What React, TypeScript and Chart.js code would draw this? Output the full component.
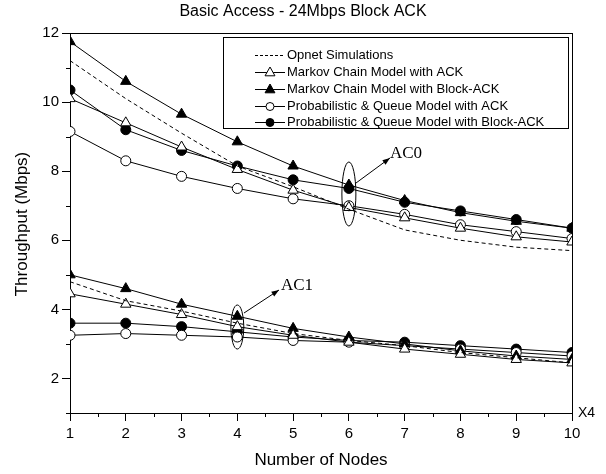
import React, { useEffect, useRef } from "react";
import { Chart, registerables } from "chart.js";

Chart.register(...registerables);

const nodes = [1, 2, 3, 4, 5, 6, 7, 8, 9, 10];
const yTickValues = [2, 4, 6, 8, 10, 12];

// AC0
const ac0Opnet = [11.2, 10.1, 9.1, 8.15, 7.55, 6.9, 6.3, 6.0, 5.8, 5.7];
const ac0MarkovAck = [10.1, 9.4, 8.7, 8.05, 7.45, 6.95, 6.65, 6.35, 6.1, 5.95];
const ac0MarkovBlock = [11.75, 10.6, 9.65, 8.85, 8.15, 7.6, 7.15, 6.8, 6.55, 6.35];
const ac0ProbAck = [9.15, 8.3, 7.85, 7.5, 7.2, 7.0, 6.75, 6.45, 6.25, 6.05];
const ac0ProbBlock = [10.35, 9.2, 8.6, 8.15, 7.75, 7.5, 7.1, 6.85, 6.6, 6.35];

// AC1
const ac1Opnet = [4.8, 4.25, 3.95, 3.6, 3.3, 3.1, 2.95, 2.75, 2.6, 2.45];
const ac1MarkovAck = [4.45, 4.15, 3.85, 3.5, 3.25, 3.05, 2.85, 2.7, 2.55, 2.45];
const ac1MarkovBlock = [5.0, 4.6, 4.15, 3.8, 3.45, 3.2, 3.0, 2.8, 2.65, 2.55];
const ac1ProbAck = [3.25, 3.3, 3.25, 3.2, 3.1, 3.05, 2.95, 2.85, 2.75, 2.65];
const ac1ProbBlock = [3.6, 3.6, 3.5, 3.35, 3.2, 3.1, 3.05, 2.95, 2.85, 2.75];

const legendLabels = [
  "Opnet Simulations",
  "Markov Chain Model with ACK",
  "Markov Chain Model with Block-ACK",
  "Probabilistic & Queue Model with ACK",
  "Probabilistic & Queue Model with Block-ACK",
];

const SANS = "Arial, 'Liberation Sans', sans-serif";
const SERIF = "'Times New Roman', 'Liberation Serif', serif";

type Kind = "opnet" | "triOpen" | "triFill" | "circOpen" | "circFill";

function styleFor(kind: Kind) {
  const base: any = {
    borderColor: "#000",
    borderWidth: 1,
    pointBorderColor: "#000",
    pointBorderWidth: 1,
    tension: 0,
    fill: false,
  };
  if (kind === "opnet") {
    return { ...base, borderDash: [4, 3], pointRadius: 0 };
  }
  if (kind === "triOpen") return { ...base, pointStyle: "triangle", pointRadius: 6, pointBackgroundColor: "#fff" };
  if (kind === "triFill") return { ...base, pointStyle: "triangle", pointRadius: 6, pointBackgroundColor: "#000" };
  if (kind === "circOpen") return { ...base, pointStyle: "circle", pointRadius: 5, pointBackgroundColor: "#fff" };
  return { ...base, pointStyle: "circle", pointRadius: 5, pointBackgroundColor: "#000" };
}

function toPts(vals: number[]) {
  return vals.map((v, i) => ({ x: nodes[i], y: v }));
}

const overlayPlugin = {
  id: "overlay",
  afterDraw(chart: any) {
    const ctx = chart.ctx as CanvasRenderingContext2D;
    const { left, right, top, bottom } = chart.chartArea;
    const xs = chart.scales.x;
    const ys = chart.scales.y;
    ctx.save();
    ctx.strokeStyle = "#000";
    ctx.fillStyle = "#000";
    ctx.lineWidth = 1;

    // frame top/right
    ctx.beginPath();
    ctx.moveTo(left, Math.round(top) + 0.5);
    ctx.lineTo(right, Math.round(top) + 0.5);
    ctx.moveTo(Math.round(right) + 0.5, top);
    ctx.lineTo(Math.round(right) + 0.5, bottom);
    ctx.stroke();

    // minor ticks
    ctx.beginPath();
    for (let v = 1.5; v < 10; v += 1) {
      const px = Math.round(xs.getPixelForValue(v)) + 0.5;
      ctx.moveTo(px, bottom);
      ctx.lineTo(px, bottom + 4);
    }
    for (let v = 1; v < 12; v += 2) {
      const py = Math.round(ys.getPixelForValue(v)) + 0.5;
      ctx.moveTo(left, py);
      ctx.lineTo(left - 4, py);
    }
    ctx.stroke();

    // title
    ctx.font = `16px ${SANS}`;
    ctx.textAlign = "center";
    ctx.textBaseline = "middle";
    ctx.fillText("Basic Access - 24Mbps Block ACK", 303, 12);

    // axis titles
    ctx.font = `17px ${SANS}`;
    ctx.fillText("Number of Nodes", 321, 460);
    ctx.save();
    ctx.translate(22, 224);
    ctx.rotate(-Math.PI / 2);
    ctx.fillText("Throughput (Mbps)", 0, 0);
    ctx.restore();

    // X4
    ctx.font = `14px ${SANS}`;
    ctx.textAlign = "left";
    ctx.fillText("X4", 578, 413);

    // legend box
    ctx.fillStyle = "#fff";
    ctx.fillRect(223.5, 37.5, 345, 91);
    ctx.fillStyle = "#000";
    ctx.strokeRect(223.5, 37.5, 345, 91);
    const kinds: Kind[] = ["opnet", "triOpen", "triFill", "circOpen", "circFill"];
    const ly = [55, 72, 89, 106, 122];
    ctx.font = `13px ${SANS}`;
    ctx.textBaseline = "middle";
    kinds.forEach((k, i) => {
      const y = ly[i] + 0.5;
      ctx.beginPath();
      if (k === "opnet") ctx.setLineDash([3, 2]);
      else ctx.setLineDash([]);
      ctx.moveTo(255, y);
      ctx.lineTo(285, y);
      ctx.stroke();
      ctx.setLineDash([]);
      const cx = 270;
      if (k === "triOpen" || k === "triFill") {
        const r = 5.5;
        ctx.beginPath();
        ctx.moveTo(cx, y - r);
        ctx.lineTo(cx + r * 0.9, y + r * 0.6);
        ctx.lineTo(cx - r * 0.9, y + r * 0.6);
        ctx.closePath();
        ctx.fillStyle = k === "triFill" ? "#000" : "#fff";
        ctx.fill();
        ctx.stroke();
      } else if (k === "circOpen" || k === "circFill") {
        ctx.beginPath();
        ctx.arc(cx, y, 4, 0, Math.PI * 2);
        ctx.fillStyle = k === "circFill" ? "#000" : "#fff";
        ctx.fill();
        ctx.stroke();
      }
      ctx.fillStyle = "#000";
      ctx.fillText(legendLabels[i], 287, ly[i]);
    });

    // annotations
    const drawArrow = (x1: number, y1: number, x2: number, y2: number) => {
      ctx.beginPath();
      ctx.moveTo(x1, y1);
      ctx.lineTo(x2, y2);
      ctx.stroke();
      const ang = Math.atan2(y2 - y1, x2 - x1);
      const h = 8;
      ctx.beginPath();
      ctx.moveTo(x2, y2);
      ctx.lineTo(x2 - h * Math.cos(ang - 0.35), y2 - h * Math.sin(ang - 0.35));
      ctx.lineTo(x2 - h * Math.cos(ang + 0.35), y2 - h * Math.sin(ang + 0.35));
      ctx.closePath();
      ctx.fill();
    };
    const ex0 = xs.getPixelForValue(6);
    ctx.beginPath();
    ctx.ellipse(ex0, 194, 7, 32, 0, 0, Math.PI * 2);
    ctx.stroke();
    drawArrow(356, 183, 390, 158);
    const ex1 = xs.getPixelForValue(4);
    ctx.beginPath();
    ctx.ellipse(ex1, 327, 6.5, 22, 0, 0, Math.PI * 2);
    ctx.stroke();
    drawArrow(244, 313, 279, 290);
    ctx.font = `17px ${SERIF}`;
    ctx.textAlign = "left";
    ctx.textBaseline = "middle";
    ctx.fillText("AC0", 390, 154);
    ctx.fillText("AC1", 281, 286);
    ctx.restore();
  },
};

export default function App() {
  const ref = useRef<HTMLCanvasElement | null>(null);
  useEffect(() => {
    document.body.style.margin = "0";
    if (!ref.current) return;
    const series: [number[], Kind][] = [
      [ac0Opnet, "opnet"],
      [ac0MarkovAck, "triOpen"],
      [ac0MarkovBlock, "triFill"],
      [ac0ProbAck, "circOpen"],
      [ac0ProbBlock, "circFill"],
      [ac1Opnet, "opnet"],
      [ac1MarkovAck, "triOpen"],
      [ac1MarkovBlock, "triFill"],
      [ac1ProbAck, "circOpen"],
      [ac1ProbBlock, "circFill"],
    ];
    const chart = new Chart(ref.current, {
      type: "line",
      data: {
        datasets: series.map(([vals, kind], i) => ({
          label: legendLabels[i % 5],
          data: toPts(vals),
          ...styleFor(kind),
        })),
      },
      options: {
        animation: false,
        responsive: false,
        layout: { padding: { top: 33, right: 34, left: 0, bottom: 0 } },
        plugins: { legend: { display: false }, tooltip: { enabled: false }, title: { display: false } },
        scales: {
          x: {
            type: "linear",
            min: 1,
            max: 10,
            afterFit: (s: any) => {
              s.height = 61;
            },
            ticks: { stepSize: 1, color: "#000", font: { size: 15, family: SANS }, padding: 4, maxRotation: 0 },
            grid: { display: true, drawOnChartArea: false, drawTicks: true, tickLength: 8, color: "#000" },
            border: { display: true, color: "#000", width: 1 },
          },
          y: {
            type: "linear",
            min: 1,
            max: 12,
            afterFit: (s: any) => {
              s.width = 70;
            },
            afterBuildTicks: (s: any) => {
              s.ticks = yTickValues.map((v) => ({ value: v }));
            },
            ticks: { color: "#000", font: { size: 15, family: SANS }, padding: 3 },
            grid: { display: true, drawOnChartArea: false, drawTicks: true, tickLength: 8, color: "#000" },
            border: { display: true, color: "#000", width: 1 },
          },
        },
      } as any,
      plugins: [overlayPlugin],
    });
    return () => chart.destroy();
  }, []);
  return (
    <div style={{ position: "absolute", left: 0, top: 0, width: 606, height: 474 }}>
      <canvas ref={ref} width={606} height={474} style={{ display: "block", width: 606, height: 474 }} />
    </div>
  );
}
